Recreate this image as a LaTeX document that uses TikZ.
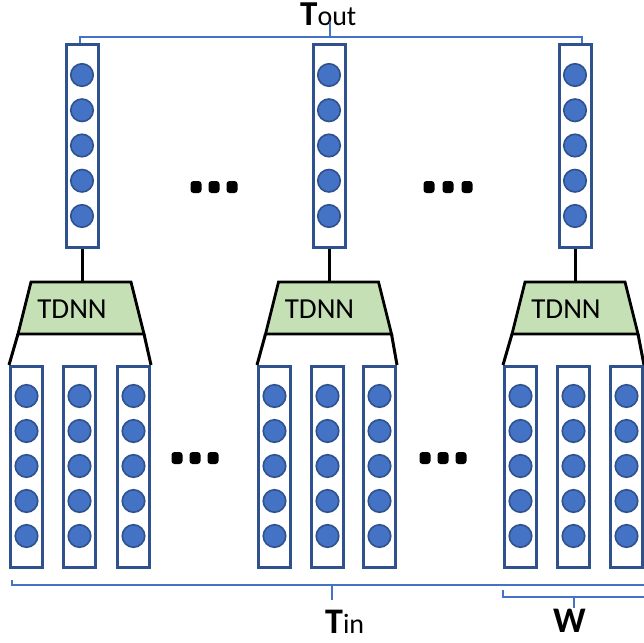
\documentclass[tikz,border=0pt]{standalone}
\usepackage{fontspec}
\setmainfont{Carlito}
\definecolor{colborder}{HTML}{2F528F}
\definecolor{neuronfill}{HTML}{4472C4}
\definecolor{brkblue}{HTML}{4472C4}
\definecolor{tdnngreen}{HTML}{C5E0B4}
\begin{document}
\begin{tikzpicture}[x=1pt,y=-1pt,
  col/.style={draw=colborder, line width=3pt, minimum width=32pt, inner sep=0pt, fill=white},
  neuron/.style={circle, fill=neuronfill, draw=colborder, line width=1.6pt, minimum size=22.5pt, inner sep=0pt},
  link/.style={line width=3pt, draw=black},
  tdnn/.style={draw=black, line width=2.8pt, fill=tdnngreen, line join=miter},
  brk/.style={draw=brkblue, line width=2.6pt},
  bigdot/.style={rectangle, rounded corners=3pt, fill=black, minimum width=11pt, minimum height=12pt, inner sep=0pt},
  lbl/.style={font=\fontsize{29}{29}\selectfont, inner sep=0pt},
  tlbl/.style={inner sep=0pt, anchor=base west, text height=23pt, text depth=0pt}
]
\useasboundingbox (0,0) rectangle (644,642);

% top (output) columns
\foreach \g/\x in {1/82,2/329,3/575}{
  \node[col, minimum height=203pt] (o\g) at (\x,146) {};
  \foreach \k in {1,...,5}{
    \node[neuron] (o\g n\k) at (\x,{75+35.25*(\k-1)}) {};
  }
}

% bottom (input) columns
\foreach \g/\xa/\xb/\xc in {1/26.5/79.5/133.5, 2/274.5/327.5/379.5, 3/520.5/573.5/626.5}{
  \foreach \j/\x in {1/\xa,2/\xb,3/\xc}{
    \node[col, minimum height=201pt] (i\g\j) at (\x,467) {};
    \foreach \k in {1,...,5}{
      \node[neuron] (i\g\j n\k) at (\x,{396+35*(\k-1)}) {};
    }
  }
}

% TDNN blocks
\foreach \g/\c in {1/81,2/328.5,3/575}{
  \coordinate (t\g tl) at ({\c-50},282);
  \coordinate (t\g tr) at ({\c+50},282);
  \coordinate (t\g br) at ({\c+63},334);
  \coordinate (t\g bl) at ({\c-63},334);
  \draw[tdnn] (t\g tl) -- (t\g tr) -- (t\g br) -- (t\g bl) -- cycle;
  \node[lbl] (lab\g) at ({\c-9},309) {TDNN};
  \draw[link] (o\g.south) -- (o\g.south |- t\g tl);
  \draw[link] (t\g bl) -- (i\g1.north west);
  \draw[link] (t\g br) -- (i\g3.north east);
}

% ellipses
\foreach \n/\x/\y in {a1/196/187, a2/214/187, a3/232/187,
                      b1/429/187, b2/448/187, b3/467/187,
                      c1/177/458, c2/195/458, c3/213/458,
                      d1/425/458, d2/443/458, d3/461/458}{
  \node[bigdot] (dot\n) at (\x,\y) {};
}

% T_out bracket
\node[tlbl] (tout) at (300,26) {\fontsize{35}{35}\selectfont\bfseries T\fontsize{28}{28}\selectfont\mdseries out};
\coordinate (toutstem) at (330,22);
\draw[brk] (80,43) -- (80,37) -- (582,37) -- (582,43);
\draw[brk] (330,37) -- (toutstem);

% T_in bracket
\node[tlbl] (tin) at (325,633) {\fontsize{36}{36}\selectfont\bfseries T\fontsize{28}{28}\selectfont\mdseries in};
\coordinate (tinstem) at (332,600);
\draw[brk] (12,580) -- (12,585) -- (646,585);
\draw[brk] (332,585) -- (tinstem);

% W bracket
\node[tlbl] (wlbl) at (553,632) {\fontsize{36}{36}\selectfont\bfseries W};
\coordinate (wstem) at (574,608);
\draw[brk] (503,590) -- (503,597) -- (646,597);
\draw[brk] (574,597) -- (wstem);
\end{tikzpicture}
\end{document}
